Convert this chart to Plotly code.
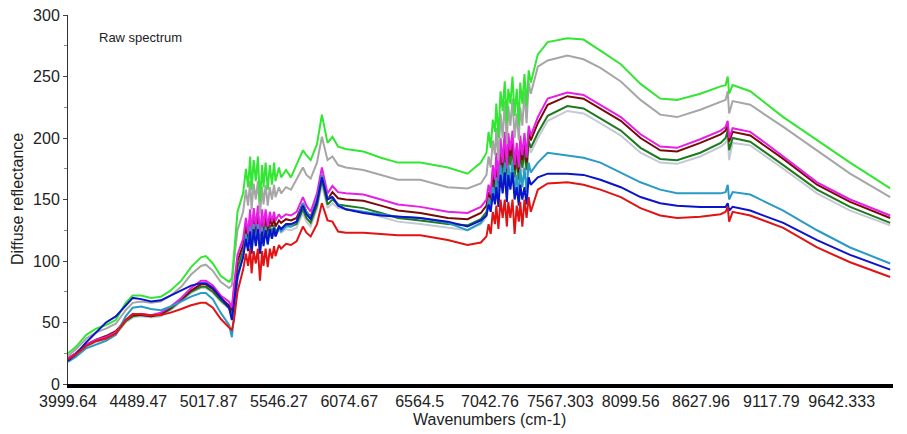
import plotly.graph_objects as go

# Tick labels (wavenumbers, cm-1), evenly spaced along the axis
tick_labels = ["3999.64", "4489.47", "5017.87", "5546.27", "6074.67", "6564.5",
               "7042.76", "7567.303", "8099.56", "8627.96", "9117.79", "9642.333"]

# Sample positions along the axis, in tick-label units (0 = 3999.64, 11 = 9642.333)
band_pos = [0.00, 0.11, 0.26, 0.40, 0.54, 0.68, 0.82, 0.92, 1.04, 1.18,
            1.32, 1.46, 1.61, 1.75, 1.89, 1.96, 2.06, 2.17, 2.29, 2.33,
            2.36, 2.41,
            2.49, 2.53, 2.56, 2.59, 2.61, 2.64, 2.67, 2.70, 2.73, 2.76,
            2.78, 2.81, 2.84, 2.87, 2.90, 2.93, 2.95, 3.00, 3.03, 3.10, 3.17,
            3.25, 3.34, 3.39, 3.45, 3.54, 3.61, 3.69, 3.76, 3.84, 3.95,
            4.20, 4.45, 4.69, 5.01, 5.40, 5.68, 5.87,
            5.95, 5.98, 6.01, 6.04, 6.07, 6.09, 6.12, 6.15, 6.18, 6.21,
            6.24, 6.26, 6.29, 6.32, 6.35, 6.38, 6.41, 6.43, 6.46, 6.49,
            6.52, 6.55, 6.58,
            6.68, 6.82, 7.10, 7.33, 7.57, 7.86, 8.14, 8.42, 8.66, 8.99, 9.28,
            9.35, 9.38, 9.40, 9.45,
            9.70, 10.17, 10.65, 11.12, 11.69]

spec_green = [25, 30, 40, 45, 48, 52, 66, 72, 72, 70, 71, 76, 84, 95, 103, 104, 98, 88, 83, 86,
              105, 140,
              155, 175, 160, 185, 158, 182, 165, 185, 148, 178, 160, 180, 158, 178, 162, 180, 165, 176, 168, 174, 168,
              178, 190, 186, 182, 195, 219, 196, 201, 193, 191,
              189, 184, 180, 180, 176, 171, 180,
              188, 205, 192, 215, 205, 228, 200, 238, 222, 246, 212, 240, 228, 250, 218, 240, 210, 245, 228, 252, 226, 255, 245,
              268, 278, 281, 280, 271, 260, 244, 232, 231, 236, 242,
              243, 250, 236, 243,
              238, 217, 198, 180, 159]

spec_gray = [23, 28, 37, 42, 45, 49, 60, 66, 67, 66, 67, 72, 79, 89, 96, 97, 92, 83, 78, 80,
             100, 125,
             140, 158, 145, 165, 142, 163, 150, 165, 138, 160, 146, 162, 145, 160, 150, 162, 152, 160, 155, 160, 158,
             166, 176, 170, 167, 180, 201, 182, 185, 178, 176,
             174, 170, 166, 166, 160, 159, 163,
             170, 185, 176, 198, 186, 208, 182, 220, 200, 230, 195, 226, 210, 232, 200, 220, 198, 225, 210, 238, 212, 245, 236,
             258, 263, 267, 264, 257, 246, 231, 219, 217, 223, 229,
             231, 238, 220, 230,
             227, 209, 190, 171, 152]

spec_magenta = [21, 25, 32, 36, 38, 42, 52, 57, 57, 56, 58, 63, 70, 78, 84, 84, 80, 72, 67, 62,
                80, 105,
                118, 135, 122, 142, 120, 143, 128, 145, 122, 142, 128, 142, 128, 140, 132, 140, 133, 138, 135, 138, 137,
                140, 152, 145, 140, 155, 176, 155, 161, 156, 155,
                154, 150, 146, 144, 140, 139, 144,
                150, 162, 154, 178, 166, 188, 165, 200, 180, 205, 175, 204, 190, 206, 178, 196, 176, 202, 186, 204, 184, 210, 202,
                217, 232, 237, 235, 227, 217, 203, 193, 192, 199, 206,
                209, 214, 200, 208,
                205, 185, 164, 150, 137]

spec_maroon = [21, 25, 32, 36, 39, 43, 52, 56, 56, 55, 57, 62, 69, 76, 81, 81, 77, 70, 64, 60,
               76, 100,
               113, 130, 117, 136, 116, 137, 123, 139, 118, 136, 123, 136, 124, 135, 128, 135, 128, 133, 131, 134, 133,
               135, 147, 140, 136, 150, 170, 150, 156, 151, 150,
               149, 145, 141, 139, 135, 134, 139,
               145, 156, 150, 172, 160, 182, 160, 194, 176, 200, 170, 198, 185, 200, 174, 190, 172, 196, 182, 198, 180, 205, 198,
               212, 227, 234, 232, 224, 214, 200, 190, 189, 196, 203,
               206, 211, 197, 205,
               202, 183, 162, 148, 135]

spec_darkgreen = [20, 24, 31, 35, 37, 41, 51, 55, 56, 55, 56, 61, 68, 75, 79, 79, 75, 68, 62, 58,
                  72, 95,
                  108, 124, 112, 130, 111, 131, 118, 133, 113, 130, 118, 130, 119, 129, 122, 129, 123, 128, 126, 129, 128,
                  130, 142, 135, 131, 145, 166, 146, 150, 146, 145,
                  143, 139, 135, 133, 130, 129, 134,
                  140, 150, 144, 165, 154, 175, 152, 186, 170, 192, 164, 190, 178, 193, 168, 184, 166, 190, 176, 190, 174, 198, 192,
                  204, 218, 226, 224, 216, 206, 192, 183, 182, 188, 196,
                  200, 206, 190, 200,
                  197, 178, 158, 144, 131]

spec_silver = [19, 23, 30, 34, 36, 40, 50, 54, 55, 54, 55, 60, 67, 74, 78, 78, 74, 67, 61, 57,
               70, 92,
               105, 120, 109, 127, 108, 128, 115, 130, 110, 127, 115, 127, 116, 126, 119, 126, 120, 125, 123, 126, 125,
               127, 139, 132, 128, 142, 162, 143, 147, 143, 142,
               140, 136, 132, 130, 127, 125, 130,
               136, 146, 140, 160, 150, 170, 148, 182, 166, 188, 160, 186, 174, 188, 164, 180, 162, 185, 172, 186, 170, 194, 188,
               200, 214, 222, 220, 212, 202, 188, 180, 179, 185, 193,
               196, 200, 182, 196,
               194, 175, 155, 141, 129]

spec_teal = [18, 22, 29, 32, 35, 40, 55, 62, 63, 61, 60, 63, 67, 71, 74, 74, 69, 58, 48, 38,
             55, 85,
             105, 122, 110, 128, 106, 130, 114, 130, 106, 128, 114, 128, 113, 127, 118, 128, 120, 127, 124, 128, 128,
             132, 147, 140, 135, 150, 170, 151, 152, 146, 142,
             140, 138, 136, 135, 131, 125, 131,
             138, 150, 142, 160, 150, 168, 148, 178, 160, 180, 152, 178, 165, 180, 155, 170, 150, 175, 160, 176, 156, 180, 172,
             180, 188, 186, 184, 180, 172, 164, 158, 155, 155, 155,
             156, 162, 150, 156,
             154, 141, 125, 111, 98]

spec_blue = [19, 24, 34, 42, 50, 55, 64, 70, 69, 67, 68, 72, 76, 80, 82, 82, 78, 70, 62, 52,
             65, 88,
             103, 118, 108, 124, 106, 126, 112, 126, 106, 124, 112, 125, 114, 126, 118, 127, 120, 128, 126, 130, 130,
             132, 145, 138, 134, 148, 168, 150, 152, 145, 142,
             139, 137, 136, 135, 132, 128, 133,
             137, 146, 140, 155, 146, 160, 144, 170, 155, 172, 148, 170, 158, 172, 150, 160, 145, 162, 150, 160, 146, 168, 162,
             168, 171, 171, 170, 166, 160, 152, 147, 145, 144, 144,
             144, 147, 141, 144,
             141, 131, 117, 105, 93]

spec_red = [20, 24, 31, 35, 37, 41, 52, 57, 57, 56, 56, 58, 61, 64, 66, 66, 62, 53, 46, 44,
            52, 75,
            93, 106, 96, 110, 90, 108, 98, 110, 84, 108, 96, 110, 95, 110, 102, 112, 104, 113, 110, 114, 113,
            116, 128, 123, 120, 130, 147, 133, 132, 124, 123,
            123, 122, 121, 121, 117, 113, 115,
            120, 130, 122, 140, 130, 145, 126, 150, 135, 150, 128, 148, 135, 150, 122, 145, 132, 148, 128, 150, 135, 152, 140,
            158, 163, 164, 162, 158, 152, 143, 137, 135, 136, 138,
            140, 144, 132, 140,
            137, 127, 111, 99, 87]

series = [
    ("silver", spec_silver, "#c3c9d3"),
    ("dark green", spec_darkgreen, "#1f7a1f"),
    ("maroon", spec_maroon, "#7a0a0a"),
    ("magenta", spec_magenta, "#e61ee6"),
    ("gray", spec_gray, "#a6a6a6"),
    ("green", spec_green, "#33e633"),
    ("teal", spec_teal, "#2a9bc4"),
    ("blue", spec_blue, "#0a14c8"),
    ("red", spec_red, "#e01414"),
]

fig = go.Figure()
for name, vals, col in series:
    assert len(vals) == len(band_pos), (name, len(vals), len(band_pos))
    fig.add_trace(go.Scatter(x=band_pos, y=vals, mode="lines", name=name,
                             line=dict(color=col, width=2)))

# The page body adds an 8px margin, so the figure is sized 8px smaller.
fig.update_layout(
    width=899, height=426,
    margin=dict(l=60, r=14, t=7, b=50),
    plot_bgcolor="white", paper_bgcolor="white",
    showlegend=False,
    font=dict(family="Arial, Liberation Sans, sans-serif", size=16, color="#222222"),
)
fig.update_xaxes(
    range=[0, 11.73], tickmode="array", tickvals=list(range(len(tick_labels))),
    ticktext=tick_labels, showline=True, linecolor="black", linewidth=4,
    ticks="", showgrid=False, zeroline=False, automargin=False,
    ticklabeloverflow="allow",
    tickfont=dict(size=16),
)
fig.update_yaxes(
    range=[0, 300], dtick=50, tick0=0, ticks="outside", ticklen=4, tickcolor="#444444",
    showline=True, linecolor="#333333", linewidth=1, showgrid=False, zeroline=False,
    automargin=False, ticklabeloverflow="allow",
    minor=dict(dtick=25, ticks="outside", ticklen=3, tickcolor="#888888"),
    tickfont=dict(size=16),
)
fig.add_annotation(text="Wavenumbers (cm-1)", xref="paper", yref="paper",
                   x=0.5115, y=-0.095, xanchor="center", yanchor="middle",
                   showarrow=False, font=dict(size=16, color="#222222"))
fig.add_annotation(text="Diffuse reflectance", xref="paper", yref="paper",
                   x=-0.0612, y=0.5, xanchor="center", yanchor="middle", textangle=-90,
                   showarrow=False, font=dict(size=16, color="#222222"))
fig.add_annotation(text="Raw spectrum", xref="paper", yref="paper",
                   x=0.035, y=0.94, xanchor="left", yanchor="middle",
                   showarrow=False, font=dict(size=13, color="#222222"))

fig.write_html("out.html")
